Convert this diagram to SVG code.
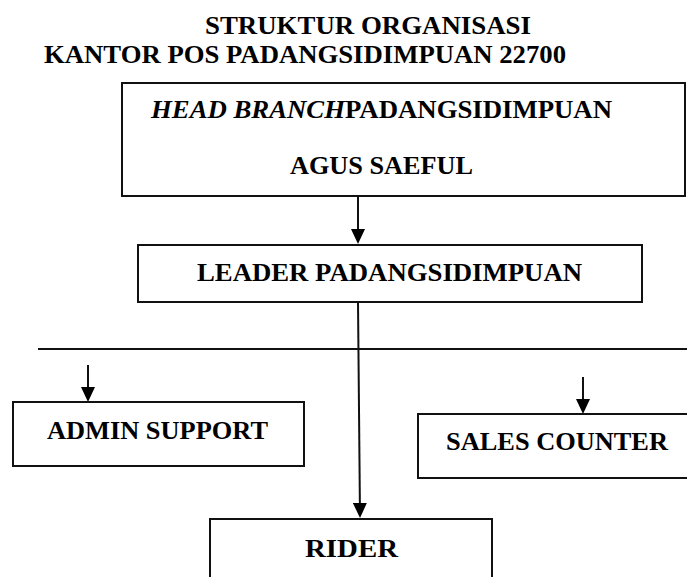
<svg xmlns="http://www.w3.org/2000/svg" width="687" height="577" viewBox="0 0 687 577">
<style>
.t{font-family:"Liberation Serif","Times New Roman",serif;font-weight:bold;font-size:26px;fill:#000}
.i{font-style:italic}
.box{fill:#fff;stroke:#111;stroke-width:2}
.con{stroke:#111;stroke-width:2;fill:none}
</style>
<defs>
<marker id="ah" viewBox="0 0 15 14" refX="13" refY="7" markerWidth="15" markerHeight="14" markerUnits="userSpaceOnUse" orient="auto">
<path d="M0,0 L15,7 L0,14 z" fill="#000"/>
</marker>
</defs>
<rect width="687" height="577" fill="#fff"/>
<g id="title">
<text class="t" x="205" y="34" textLength="326" lengthAdjust="spacingAndGlyphs">STRUKTUR ORGANISASI</text>
<text class="t" x="44" y="63" textLength="522" lengthAdjust="spacingAndGlyphs">KANTOR POS PADANGSIDIMPUAN 22700</text>
</g>
<g id="connectors">
<line class="con" x1="358" y1="196" x2="358" y2="242" marker-end="url(#ah)"/>
<line class="con" x1="358" y1="302" x2="360" y2="516" marker-end="url(#ah)"/>
<line class="con" x1="38" y1="349" x2="687" y2="349"/>
<line class="con" x1="88" y1="365" x2="88" y2="400" marker-end="url(#ah)"/>
<line class="con" x1="583" y1="377" x2="583" y2="412" marker-end="url(#ah)"/>
</g>
<g id="head">
<rect class="box" x="122" y="83" width="563" height="113"/>
<text class="t" x="151" y="118" textLength="461" lengthAdjust="spacingAndGlyphs"><tspan class="i">HEAD BRANCH</tspan>PADANGSIDIMPUAN</text>
<text class="t" x="290" y="174" textLength="183" lengthAdjust="spacingAndGlyphs">AGUS SAEFUL</text>
</g>
<g id="leader">
<rect class="box" x="138" y="245" width="504" height="57"/>
<text class="t" x="197" y="281" textLength="385" lengthAdjust="spacingAndGlyphs">LEADER PADANGSIDIMPUAN</text>
</g>
<g id="admin">
<rect class="box" x="13" y="402" width="291" height="64"/>
<text class="t" x="47" y="439" textLength="221" lengthAdjust="spacingAndGlyphs">ADMIN SUPPORT</text>
</g>
<g id="sales">
<rect class="box" x="418" y="414" width="290" height="64"/>
<text class="t" x="446" y="450" textLength="222" lengthAdjust="spacingAndGlyphs">SALES COUNTER</text>
</g>
<g id="rider">
<rect class="box" x="210" y="519" width="282" height="80"/>
<text class="t" x="305" y="557" textLength="93" lengthAdjust="spacingAndGlyphs">RIDER</text>
</g>
</svg>
